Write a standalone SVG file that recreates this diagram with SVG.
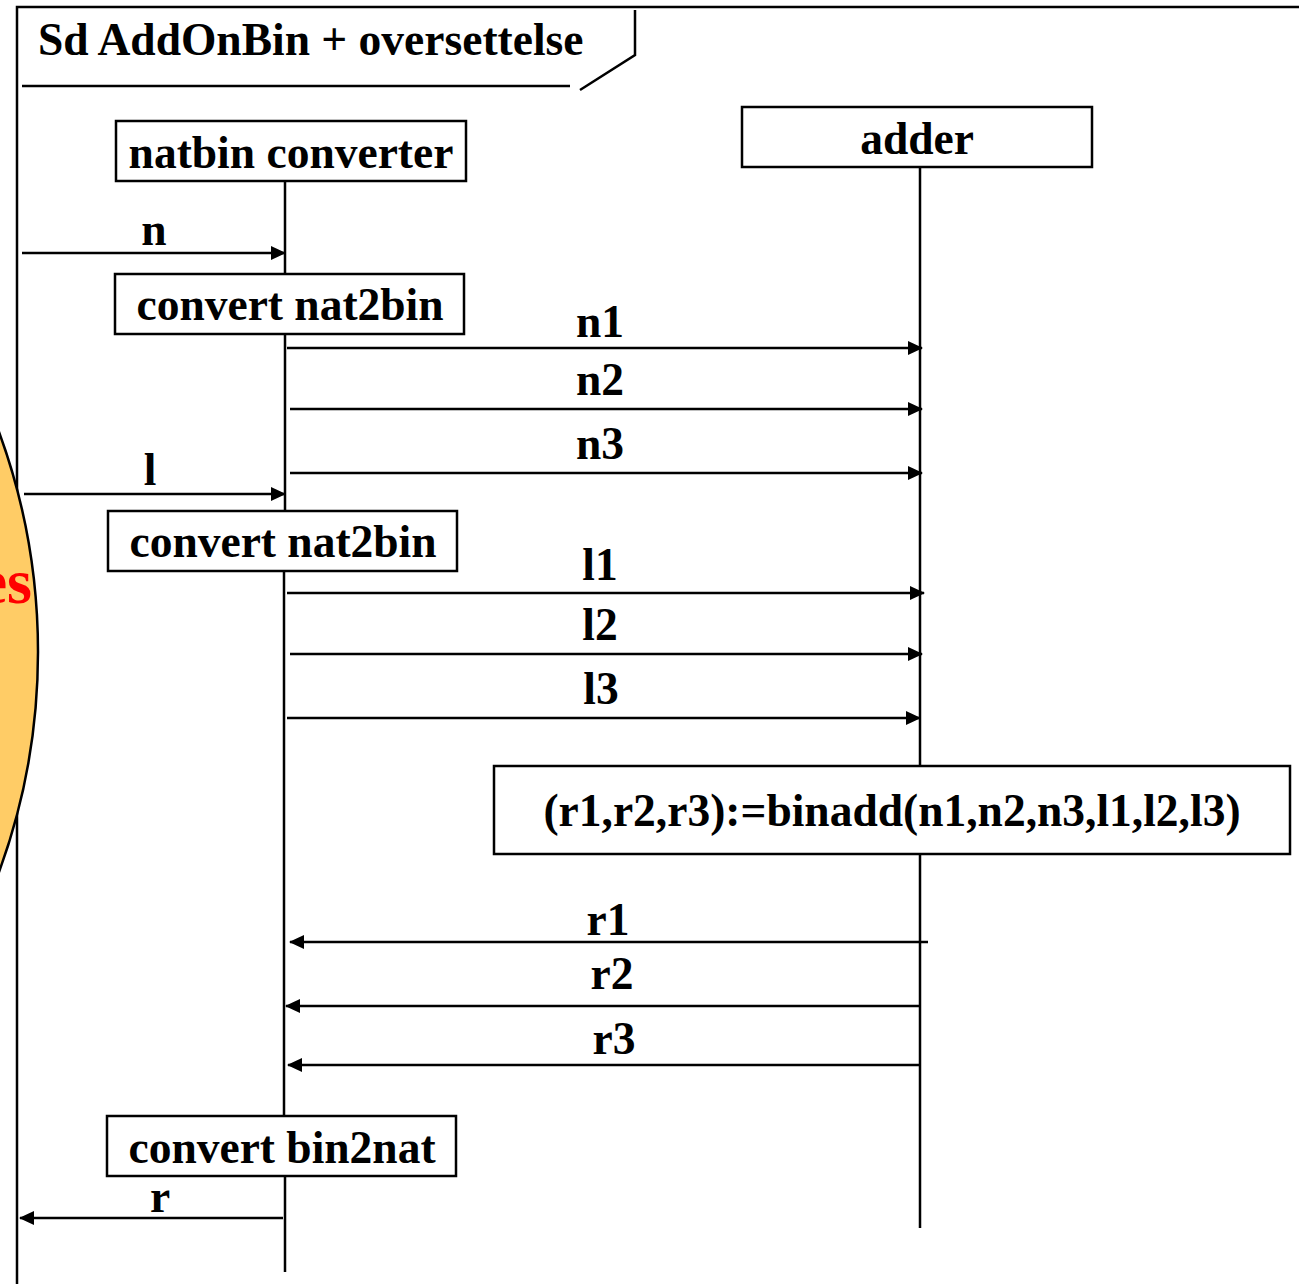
<svg xmlns="http://www.w3.org/2000/svg" width="1299" height="1284" viewBox="0 0 1299 1284">
  <defs>
    <marker id="arrow" viewBox="0 0 15 14" refX="14" refY="7" markerWidth="15" markerHeight="14" markerUnits="userSpaceOnUse" orient="auto">
      <path d="M0,0 L15,7 L0,14 Z" fill="#000"/>
    </marker>
  </defs>
  <style>
    .t { font-family: "Liberation Serif", "Times New Roman", serif; font-weight: bold; font-size: 45.5px; fill: #000; }
    .c { text-anchor: middle; }
    .box { fill: #fff; stroke: #000; stroke-width: 2.5; }
    .line { stroke: #000; stroke-width: 2.5; fill: none; }
    .msg { stroke: #000; stroke-width: 2.5; fill: none; marker-end: url(#arrow); }
  </style>

  <rect width="1299" height="1284" fill="#fff"/>

  <!-- sequence frame and its name tab -->
  <g id="frame">
    <path class="line" d="M17,1284 V7 H1299"/>
    <path class="line" d="M22,86 H570 M580,90 L635,55 V10"/>
    <text class="t" x="38" y="55">Sd AddOnBin + oversettelse</text>
  </g>

  <!-- lifelines -->
  <g id="lifelines">
    <path class="line" d="M285,181 V274 M285,334 V511 M284,648 V1116 M285,1176 V1272"/>
    <path class="line" stroke-width="4" d="M284,571 V648"/>
    <path class="line" d="M920,168 V766 M920,854 V1228"/>
  </g>

  <g id="natbin">
    <rect class="box" x="116" y="121" width="350" height="60"/>
    <text class="t c" x="291" y="168">natbin converter</text>
  </g>

  <g id="adder">
    <rect class="box" x="742" y="107" width="350" height="60"/>
    <text class="t c" x="917" y="154">adder</text>
  </g>

  <g id="convert1">
    <rect class="box" x="115" y="274" width="349" height="60"/>
    <text class="t c" x="290" y="320">convert nat2bin</text>
  </g>

  <g id="convert2">
    <rect class="box" x="108" y="511" width="349" height="60"/>
    <text class="t c" x="283" y="557">convert nat2bin</text>
  </g>

  <g id="binadd">
    <rect class="box" x="494" y="766" width="796" height="88"/>
    <text class="t c" x="892" y="826">(r1,r2,r3):=binadd(n1,n2,n3,l1,l2,l3)</text>
  </g>

  <g id="convert3">
    <rect class="box" x="107" y="1116" width="349" height="60"/>
    <text class="t c" x="282" y="1163">convert bin2nat</text>
  </g>

  <!-- messages -->
  <g id="connectors">
    <line class="msg" x1="22" y1="253" x2="285" y2="253"/>
    <line class="msg" x1="287" y1="348" x2="922" y2="348"/>
    <line class="msg" x1="290" y1="409" x2="922" y2="409"/>
    <line class="msg" x1="290" y1="473" x2="922" y2="473"/>
    <line class="msg" x1="24" y1="494" x2="285" y2="494"/>
    <line class="msg" x1="287" y1="593" x2="924" y2="593"/>
    <line class="msg" x1="290" y1="654" x2="922" y2="654"/>
    <line class="msg" x1="287" y1="718" x2="920" y2="718"/>
    <line class="msg" x1="928" y1="942" x2="290" y2="942"/>
    <line class="msg" x1="920" y1="1006" x2="286" y2="1006"/>
    <line class="msg" x1="920" y1="1065" x2="288" y2="1065"/>
    <line class="msg" x1="283" y1="1218" x2="20" y2="1218"/>
  </g>

  <g id="labels">
    <text class="t c" x="154" y="245">n</text>
    <text class="t c" x="600" y="337">n1</text>
    <text class="t c" x="600" y="395">n2</text>
    <text class="t c" x="600" y="459">n3</text>
    <text class="t c" x="150" y="485">l</text>
    <text class="t c" x="600" y="580">l1</text>
    <text class="t c" x="600" y="640">l2</text>
    <text class="t c" x="601" y="704">l3</text>
    <text class="t c" x="608" y="935">r1</text>
    <text class="t c" x="612" y="989">r2</text>
    <text class="t c" x="614" y="1054">r3</text>
    <text class="t c" x="160" y="1212">r</text>
  </g>

  <!-- callout bubble cut by the left edge -->
  <g id="callout">
    <circle cx="-602" cy="652" r="640" fill="#FFCC66" stroke="#000" stroke-width="2.5"/>
    <text class="t" x="32" y="603" text-anchor="end" style="fill:#FF0000;font-size:64px">es</text>
  </g>
</svg>
